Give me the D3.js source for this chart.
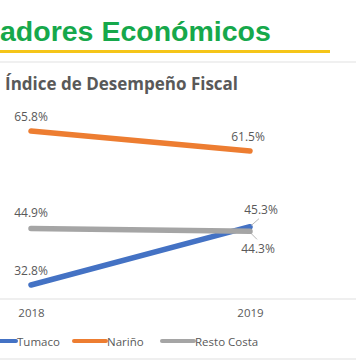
<!DOCTYPE html>
<html><head><meta charset="utf-8">
<script src="https://cdn.jsdelivr.net/npm/d3@7"></script>
<style>body{margin:0;background:#fff}svg{display:block}</style>
</head><body>
<script>
const years = ["2018", "2019"];
const seriesNames = ["Tumaco", "Nariño", "Resto Costa"];
const tumaco = [32.8, 45.3];
const narino = [65.8, 61.5];
const restoCosta = [44.9, 44.3];
const colors = ["#4472c4", "#ed7d31", "#a5a5a5"];

const W = 356, H = 364;
const svg = d3.select("body").append("svg").attr("width", W).attr("height", H);

// header
svg.append("text").attr("x", 0).attr("y", 41)
  .attr("font-family", "Liberation Sans, Arial, sans-serif").attr("font-weight", "bold")
  .attr("font-size", 28.5).attr("fill", "#16a84b").text("adores Económicos");
svg.append("line").attr("x1", 0).attr("x2", 330).attr("y1", 51.5).attr("y2", 51.5)
  .attr("stroke", "#f5c518").attr("stroke-width", 3);
svg.append("line").attr("x1", 0).attr("x2", W).attr("y1", 62).attr("y2", 62)
  .attr("stroke", "#e2e2e2").attr("stroke-width", 1.2);
svg.append("text").attr("x", 5).attr("y", 90)
  .attr("font-family", "Open Sans, sans-serif").attr("font-weight", "bold")
  .attr("font-size", 17).attr("fill", "#595959").text("Índice de Desempeño Fiscal");

const x = d3.scalePoint().domain(years).range([31, 250]);
const y = d3.scaleLinear().domain([30, 70]).range([298.1, 111.4]);

// axis
const xAxis = svg.append("g").attr("transform", "translate(0,299)")
  .call(d3.axisBottom(x).tickSize(0).tickPadding(8));
xAxis.select(".domain").remove();
svg.append("line").attr("x1", 0).attr("x2", W).attr("y1", 299).attr("y2", 299)
  .attr("stroke", "#e0e0e0").attr("stroke-width", 1.2);
xAxis.selectAll("text").attr("font-family", "Open Sans, sans-serif")
  .attr("font-size", 11.5).attr("fill", "#595959").attr("dy", "0.85em");

const series = [
  {name: seriesNames[0], values: tumaco, color: colors[0]},
  {name: seriesNames[1], values: narino, color: colors[1]},
  {name: seriesNames[2], values: restoCosta, color: colors[2]}
];

const line = d3.line().x((d, i) => x(years[i])).y(d => y(d));
svg.selectAll(".series").data(series).enter().append("path")
  .attr("d", d => line(d.values)).attr("fill", "none")
  .attr("stroke", d => d.color).attr("stroke-width", 5.5)
  .attr("stroke-linecap", "round").attr("stroke-linejoin", "round");

// data labels
const labelOffsets = {
  "Tumaco": [[0, -15], [11, -17.5]],
  "Nariño": [[0, -15], [-2, -15]],
  "Resto Costa": [[0, -16], [8, 17.5]]
};
const lbl = svg.append("g").attr("font-family", "Open Sans, sans-serif")
  .attr("font-size", 12).attr("fill", "#595959");
series.forEach(s => {
  s.values.forEach((v, i) => {
    const px = x(years[i]), py = y(v);
    const [dx, dy] = labelOffsets[s.name][i];
    lbl.append("text").attr("x", px + dx).attr("y", py + dy)
      .attr("text-anchor", "middle").attr("dominant-baseline", "central")
      .text(v.toFixed(1) + "%");
  });
});
// leader lines
svg.append("line").attr("x1", x(years[1]) + 1).attr("y1", y(tumaco[1]) - 1)
  .attr("x2", x(years[1]) + 9).attr("y2", y(tumaco[1]) - 8)
  .attr("stroke", "#a6a6a6").attr("stroke-width", 0.8);
svg.append("line").attr("x1", x(years[1]) + 1).attr("y1", y(restoCosta[1]) + 2)
  .attr("x2", x(years[1]) + 7).attr("y2", y(restoCosta[1]) + 8)
  .attr("stroke", "#a6a6a6").attr("stroke-width", 0.8);

// legend
const legendX = [-16, 74, 162];
const lg = svg.append("g");
series.forEach((s, i) => {
  lg.append("line").attr("x1", legendX[i]).attr("x2", legendX[i] + 32)
    .attr("y1", 341).attr("y2", 341).attr("stroke", s.color)
    .attr("stroke-width", 4).attr("stroke-linecap", "round");
  lg.append("text").attr("x", legendX[i] + 33).attr("y", 341)
    .attr("dominant-baseline", "central").attr("font-family", "Open Sans, sans-serif")
    .attr("font-size", 11.5).attr("fill", "#595959").text(s.name);
});
svg.append("line").attr("x1", 0).attr("x2", W).attr("y1", 359).attr("y2", 359)
  .attr("stroke", "#e0e0e0").attr("stroke-width", 1.2);
</script>
</body></html>
